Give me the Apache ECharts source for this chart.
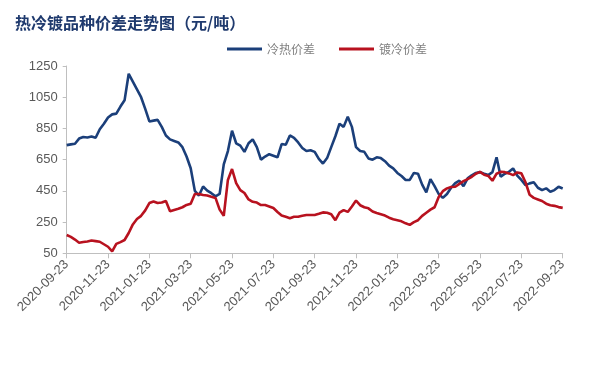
<!DOCTYPE html>
<html><head><meta charset="utf-8">
<script src="https://cdn.jsdelivr.net/npm/echarts@6/dist/echarts.min.js"></script>
<style>html,body{margin:0;padding:0;background:#fff}#c{width:595px;height:375px}</style>
</head><body><div id="c"></div>
<script>
const titleText = '热冷镀品种价差走势图（元/吨）';
const seriesNames = ['冷热价差', '镀冷价差'];
const tickLabels = ['2020-09-23','2020-11-23','2021-01-23','2021-03-23','2021-05-23','2021-07-23','2021-09-23','2021-11-23','2022-01-23','2022-03-23','2022-05-23','2022-07-23','2022-09-23'];
const pointsPerTick = 10;
const coldHot = [743,748,752,785,795,792,798,790,845,880,
920,940,945,990,1030,1200,1150,1100,1050,975,
895,900,905,860,805,780,770,760,730,670,
595,450,420,478,452,435,415,430,620,705,
835,755,740,700,755,780,730,650,670,685,
675,665,750,745,805,790,760,725,705,710,
700,655,625,660,730,800,880,860,925,860,
730,705,700,658,650,665,660,640,612,594,
565,545,520,520,565,560,490,440,525,480,
430,405,430,470,500,515,480,530,550,565,
570,560,551,570,665,540,560,572,594,548,
520,487,498,505,470,455,466,444,455,476,465];
const galvCold = [167,155,138,118,122,126,132,128,124,108,
92,62,110,122,135,180,235,270,290,325,
372,382,372,375,385,320,328,335,345,360,
368,430,430,423,420,412,405,330,290,520,
590,500,455,436,395,380,375,359,359,350,
340,315,292,284,275,284,284,290,295,295,
295,303,312,310,300,262,310,327,315,350,
388,358,345,338,318,308,300,292,278,268,
262,255,242,232,250,262,290,310,330,345,
410,448,466,475,476,495,512,525,540,560,
572,553,546,515,560,572,570,562,551,568,
562,505,425,405,395,385,368,358,354,346,341];

const categories = coldHot.map((_, i) => (i % pointsPerTick === 0 ? tickLabels[i / pointsPerTick] : tickLabels[Math.floor(i / pointsPerTick)] + '+' + (i % pointsPerTick)));

const chart = echarts.init(document.getElementById('c'), null, {renderer: 'canvas'});
chart.setOption({
  animation: false,
  backgroundColor: '#fff',
  title: {
    text: titleText, left: 10, top: 10,
    textStyle: {fontSize: 16, fontWeight: 'bold', color: '#1F3A6E', fontFamily: 'Noto Sans CJK SC'}
  },
  legend: {
    top: 38, left: 222, itemWidth: 35, itemHeight: 3, itemGap: 24,
    icon: 'rect',
    textStyle: {fontSize: 12, color: '#7F7F7F', fontFamily: 'Noto Sans CJK SC'},
    data: seriesNames
  },
  grid: {left: 66.7, right: 32.3, top: 66, bottom: 121.7, containLabel: false},
  xAxis: {
    type: 'category', data: categories, boundaryGap: false,
    axisLine: {lineStyle: {color: '#BFBFBF'}},
    axisTick: {show: true, interval: pointsPerTick - 1, length: 5, lineStyle: {color: '#BFBFBF'}},
    axisLabel: {
      interval: pointsPerTick - 1, rotate: 45, fontSize: 13, color: '#595959', margin: 9,
      fontFamily: 'Liberation Sans',
      formatter: (v, i) => (i % pointsPerTick === 0 ? tickLabels[i / pointsPerTick] : '')
    },
    splitLine: {show: false}
  },
  yAxis: {
    type: 'value', min: 50, max: 1250, interval: 200,
    axisLine: {show: true, lineStyle: {color: '#BFBFBF'}},
    axisTick: {show: true, length: 4, inside: false, lineStyle: {color: '#BFBFBF'}},
    axisLabel: {fontSize: 13, color: '#595959', margin: 9, fontFamily: 'Liberation Sans',
      formatter: v => String(v)},
    splitLine: {show: false}
  },
  series: [
    {name: seriesNames[0], type: 'line', data: coldHot, showSymbol: false, symbol: 'none',
     lineStyle: {color: '#1B3F7A', width: 2.6}, itemStyle: {color: '#1B3F7A'}},
    {name: seriesNames[1], type: 'line', data: galvCold, showSymbol: false, symbol: 'none',
     lineStyle: {color: '#B8121F', width: 2.6}, itemStyle: {color: '#B8121F'}}
  ]
});
</script></body></html>
